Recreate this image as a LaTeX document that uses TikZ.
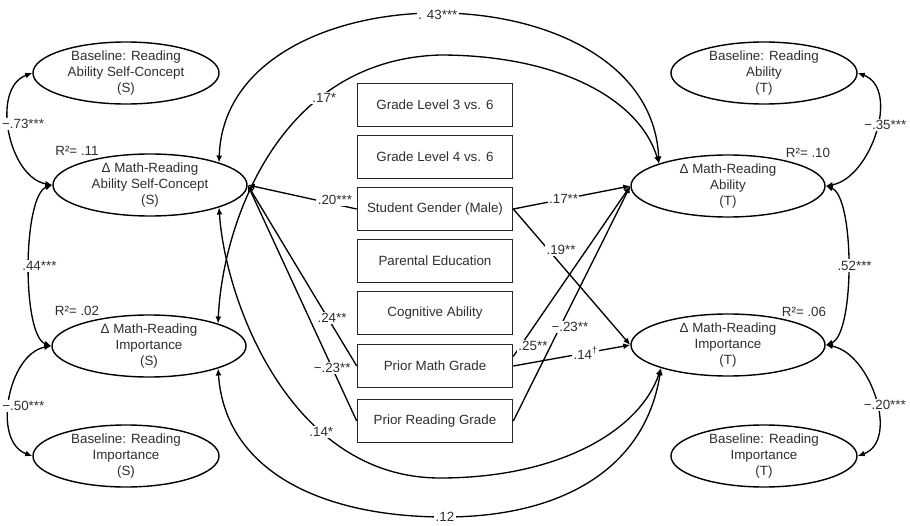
\documentclass[tikz,border=0pt]{standalone}
\usepackage{fontspec}
\setmainfont{Liberation Sans}
\usetikzlibrary{shapes.geometric,arrows.meta}
\definecolor{txt}{HTML}{2E2E2E}

\begin{document}
\begin{tikzpicture}[x=0.025cm,y=-0.025cm,
  font=\fontsize{9.5}{11.4}\selectfont,
  latent/.style={draw,ellipse,line width=1pt,inner xsep=0pt,inner ysep=-4pt,align=center,text=txt,minimum width=4.85cm,minimum height=1.55cm},
  base/.style={latent,minimum width=4.65cm},
  obs/.style={draw=black!85,rectangle,line width=1.1pt,inner sep=0pt,text=txt,minimum width=3.875cm,minimum height=1.075cm},
  lbl/.style={fill=white,inner sep=1pt,text=txt},
  rsq/.style={inner sep=0pt,text=txt},
  reg/.style={line width=0.95pt,-{Latex[length=5pt,width=4.2pt]}},
  cov/.style={line width=0.95pt,{Latex[length=5pt,width=4.2pt]}-{Latex[length=5pt,width=4.2pt]}}]
\useasboundingbox (0,0) rectangle (910,526);
\node[base](bs1) at (126,73){Baseline: Reading\\Ability Self-Concept\\(S)};
\node[latent](ds1) at (150,185){Δ Math-Reading\\Ability Self-Concept\\(S)};
\node[latent](ds2) at (149,346){Δ Math-Reading\\Importance\\(S)};
\node[base](bs2) at (126,456){Baseline: Reading\\Importance\\(S)};
\node[base](bt1) at (764,73){Baseline: Reading\\Ability\\(T)};
\node[latent](dt1) at (728,186){Δ Math-Reading\\Ability\\(T)};
\node[latent](dt2) at (728,345){Δ Math-Reading\\Importance\\(T)};
\node[base](bt2) at (764,456){Baseline: Reading\\Importance\\(T)};
\node[obs](g3) at (435,105){Grade Level 3 vs. 6};
\node[obs](g4) at (435,157){Grade Level 4 vs. 6};
\node[obs](sex) at (435,209){Student Gender (Male)};
\node[obs](ped) at (435,261){Parental Education};
\node[obs](cog) at (435,313){Cognitive Ability};
\node[obs](pmg) at (435,366){Prior Math Grade};
\node[obs](prg) at (435,421){Prior Reading Grade};
\node[rsq](r1) at (77,151){R²= .11};
\node[rsq](r2) at (77,311){R²= .02};
\node[rsq](r3) at (808,153){R²= .10};
\node[rsq](r4) at (804,312){R²= .06};
\draw[cov] (bs1.west) to[out=200,in=170] node[lbl,pos=.45,xshift=10pt]{−.73***} (ds1.west);
\draw[cov] (ds1.west) to[out=200,in=160,looseness=.5] node[lbl,pos=.5,xshift=7pt]{.44***} (ds2.west);
\draw[cov] (ds2.west) to[out=190,in=160] node[lbl,pos=.55,xshift=10pt]{−.50***} (bs2.west);
\draw[cov] (bt1.east) to[out=-20,in=10] node[lbl,pos=.45,xshift=6pt]{−.35***} (dt1.east);
\draw[cov] (dt1.east) to[out=-20,in=20,looseness=.5] node[lbl,pos=.5,xshift=5pt]{.52***} (dt2.east);
\draw[cov] (dt2.east) to[out=-10,in=20] node[lbl,pos=.55,xshift=6pt]{−.20***} (bt2.east);
\draw[cov] (ds1.18) .. controls (225,-35) and (650,-35) .. (dt1.162) node[lbl,pos=.5]{. 43***};
\draw[cov] (ds2.18) .. controls (222,230) and (275,60) .. (440,55) node[lbl,pos=.7,xshift=3pt]{.17*} .. controls (560,55) and (640,100) .. (dt1.162);
\draw[cov] (ds1.342) .. controls (225,300) and (290,478) .. (440,478) node[lbl,pos=.68]{.14*} .. controls (560,478) and (640,430) .. (dt2.199);
\draw[cov] (ds2.342) .. controls (225,470) and (320,517) .. (445,517) node[lbl]{.12} .. controls (560,517) and (645,470) .. (dt2.199);
\draw[reg] (sex.west) -- (ds1.east) node[lbl,pos=.2,yshift=3pt]{.20***};
\draw[reg] (sex.east) -- (dt1.west) node[lbl,pos=.43]{.17**};
\draw[reg] (sex.east) -- (dt2.west) node[lbl,pos=.3,xshift=9pt]{.19**};
\draw[reg] (pmg.west) -- (ds1.east) node[lbl,pos=.265,xshift=3pt]{.24**};
\draw[reg] (prg.west) -- (ds1.east) node[lbl,pos=.225]{−.23**};
\draw[reg] (pmg.7) -- (dt1.west) node[lbl,pos=.06,xshift=9pt]{.25**};
\draw[reg] (prg.east) -- (dt1.west) node[lbl,pos=.4,xshift=7pt]{−.23**};
\draw[reg] (pmg.east) -- (dt2.west) node[lbl,pos=.62]{.14\textsuperscript{†}};
\end{tikzpicture}
\end{document}
